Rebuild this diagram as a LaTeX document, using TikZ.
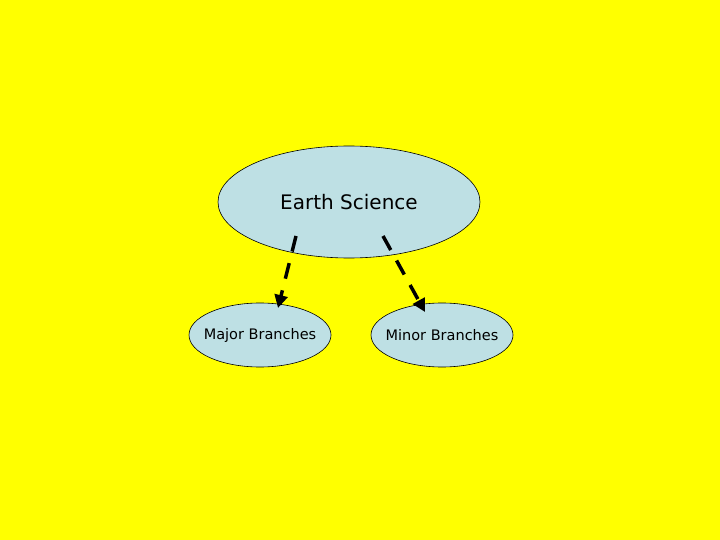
\documentclass[tikz,border=0pt]{standalone}
\usepackage{fontspec}
\setmainfont{DejaVu Sans}
\usetikzlibrary{arrows.meta}
\definecolor{bgy}{RGB}{255,255,0}
\begin{document}
\begin{tikzpicture}[x=1pt,y=-1pt,
  oval/.style={draw=black,fill={rgb,255:red,190;green,224;blue,228},line width=0.6pt},
  conn/.style={line width=3.5pt,dash pattern=on 16pt off 12pt,-{Triangle[length=13pt,width=13pt]}}]
\fill[bgy] (0,0) rectangle (720,540);
\useasboundingbox (0,0) rectangle (720,540);
\draw[oval] (349,202) ellipse [x radius=131,y radius=56];
\node (es) at (349,202) {\fontsize{20}{24}\selectfont Earth Science};
\draw[oval] (260,335) ellipse [x radius=71,y radius=32];
\node (maj) at (260,335) {\fontsize{14.5}{17}\selectfont Major Branches};
\draw[oval] (442,335) ellipse [x radius=71,y radius=32];
\node (min) at (442,335) {\fontsize{14.5}{17}\selectfont Minor Branches};
\coordinate (a1) at (296,236); \coordinate (a2) at (278,308);
\coordinate (b1) at (383,236); \coordinate (b2) at (425,312);
\draw[conn] (a1) -- (a2);
\draw[conn] (b1) -- (b2);
\end{tikzpicture}
\end{document}
